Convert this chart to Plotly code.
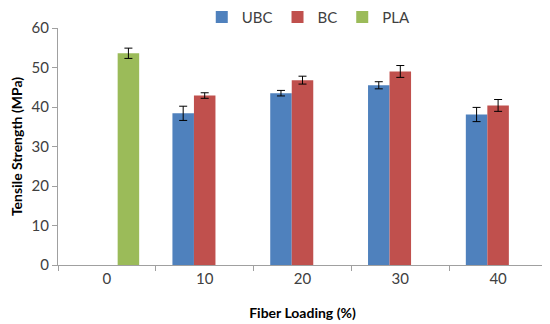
import plotly.graph_objects as go

categories = ["0", "10", "20", "30", "40"]
ubc = [None, 38.4, 43.5, 45.5, 38.1]
ubc_err = [0, 1.8, 0.7, 0.9, 1.8]
bc = [None, 42.9, 46.8, 49.0, 40.4]
bc_err = [0, 0.7, 1.0, 1.5, 1.5]
pla = [53.6, None, None, None, None]
pla_err = [1.3, 0, 0, 0, 0]

font_family = "Lato, Open Sans, sans-serif"

def eb(arr):
    return dict(type="data", array=arr, visible=True, color="black", thickness=1, width=4)

fig = go.Figure()
fig.add_trace(go.Bar(name="UBC", x=categories, y=ubc, marker=dict(color="#4F81BD", line=dict(width=0)), error_y=eb(ubc_err)))
fig.add_trace(go.Bar(name="BC", x=categories, y=bc, marker=dict(color="#C0504D", line=dict(width=0)), error_y=eb(bc_err)))
fig.add_trace(go.Bar(name="PLA", x=categories, y=pla, marker=dict(color="#9BBB59", line=dict(width=0)), error_y=eb(pla_err)))

fig.update_layout(
    width=542, height=316,
    margin=dict(l=50, r=3, t=20, b=59, autoexpand=False),
    barmode="group", bargap=0.34, bargroupgap=0,
    plot_bgcolor="white", paper_bgcolor="white",
    font=dict(family=font_family, size=15, color="#404040"),
    showlegend=True,
    legend=dict(orientation="h", x=0.294, y=1.115, xanchor="left", yanchor="top",
                font=dict(size=15, color="#404040"), itemwidth=30,
                tracegroupgap=0, bgcolor="rgba(0,0,0,0)"),
    xaxis=dict(
        title=dict(text="<b>Fiber Loading (%)</b>", font=dict(size=14, color="black"), standoff=22),
        showline=True, linecolor="#A0A0A0", linewidth=1,
        ticks="outside", tickson="boundaries", ticklen=5, tickcolor="#A0A0A0",
        showgrid=False, automargin=False,
    ),
    yaxis=dict(
        title=dict(text="<b>Tensile Strength (MPa)</b>", font=dict(size=14, color="black"), standoff=19),
        range=[0, 60], dtick=10,
        showline=True, linecolor="#A0A0A0", linewidth=1,
        ticks="outside", ticklen=5, tickcolor="#A0A0A0",
        showgrid=False, zeroline=False, automargin=False,
    ),
)

fig.write_html("out.html")
